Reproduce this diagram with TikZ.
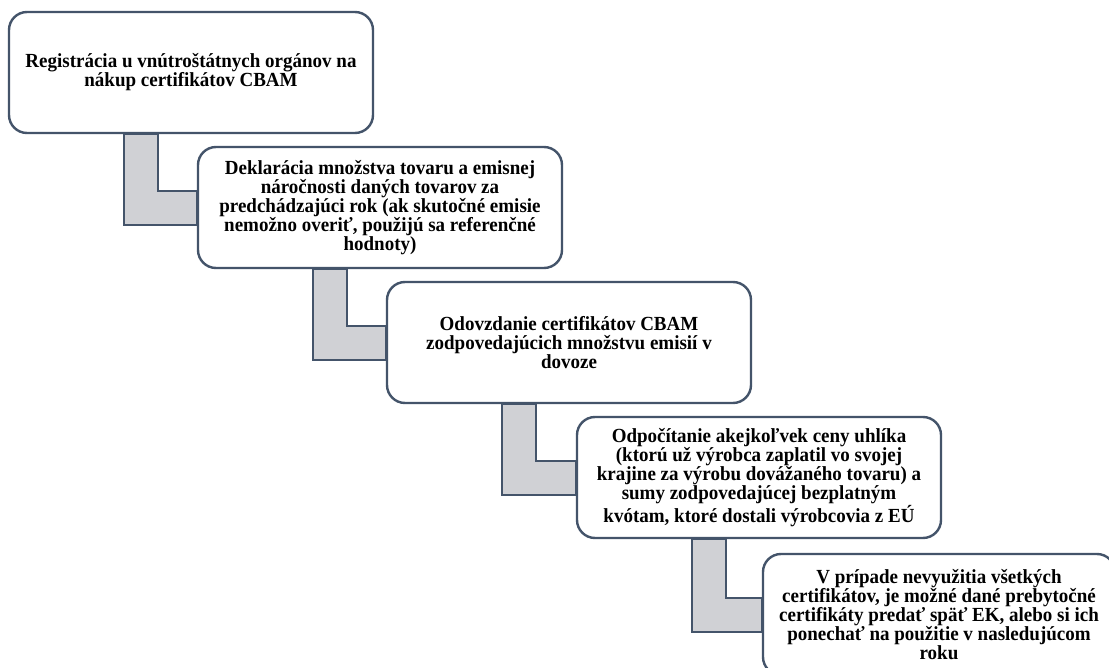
\documentclass[tikz,border=0pt]{standalone}
\usepackage{fontspec}
\setmainfont{Liberation Serif}[FakeStretch=0.95]
\usetikzlibrary{calc}
\definecolor{edgecol}{HTML}{44546A}
\definecolor{connfill}{HTML}{D0D1D5}
\tikzset{
  stepbox/.style={draw=edgecol, line width=2.4pt, fill=white, rounded corners=18pt,
    rectangle, inner sep=0pt, minimum height=121pt, minimum width=364pt, align=center,
    font=\fontsize{20}{19}\selectfont\bfseries, text=black},
  conn/.style={draw=edgecol, line width=2.4pt, fill=connfill, line join=miter}
}
\begin{document}
\begin{tikzpicture}[x=1pt,y=-1pt]
\useasboundingbox (0,0) rectangle (1109,668);
\clip (0,0) rectangle (1109,668);
\fill[white] (0,0) rectangle (1109,668);
% invisible placeholders giving the box geometry
\node[stepbox, draw=none, fill=none, text opacity=0] (a) at (191,72.5) {Registrácia u vnútroštátnych orgánov na\\nákup certifikátov CBAM};
\node[stepbox, draw=none, fill=none, text opacity=0] (b) at (380,207.5) {Deklarácia množstva tovaru a emisnej\\náročnosti daných tovarov za\\predchádzajúci rok (ak skutočné emisie\\nemožno overiť, použijú sa referenčné\\hodnoty)};
\node[stepbox, draw=none, fill=none, text opacity=0] (c) at (569,342.5) {Odovzdanie certifikátov CBAM\\zodpovedajúcich množstvu emisií v\\dovoze};
\node[stepbox, draw=none, fill=none, text opacity=0] (d) at (759,477.5) {Odpočítanie akejkoľvek ceny uhlíka\\(ktorú už výrobca zaplatil vo svojej\\krajine za výrobu dovážaného tovaru) a\\sumy zodpovedajúcej bezplatným\\kvótam, ktoré dostali výrobcovia z EÚ};
\node[stepbox, minimum width=352pt, draw=none, fill=none, text opacity=0] (e) at (939,614.5) {V prípade nevyužitia všetkých\\certifikátov, je možné dané prebytočné\\certifikáty predať späť EK, alebo si ich\\ponechať na použitie v nasledujúcom\\roku};
% connectors
\foreach \p/\q in {a/b, b/c, c/d, d/e}{
  \draw[conn] ([xshift=116pt]\p.south west) -- ([xshift=150pt]\p.south west)
    |- ([yshift=-45pt]\q.north west) -- ([yshift=-79pt]\q.north west)
    -| ([xshift=116pt]\p.south west) -- cycle;
}
% visible boxes
\node[stepbox] (A) at (a) {Registrácia u vnútroštátnych orgánov na\\nákup certifikátov CBAM};
\node[stepbox] (B) at (b) {Deklarácia množstva tovaru a emisnej\\náročnosti daných tovarov za\\predchádzajúci rok (ak skutočné emisie\\nemožno overiť, použijú sa referenčné\\hodnoty)};
\node[stepbox] (C) at (c) {Odovzdanie certifikátov CBAM\\zodpovedajúcich množstvu emisií v\\dovoze};
\node[stepbox] (D) at (d) {Odpočítanie akejkoľvek ceny uhlíka\\(ktorú už výrobca zaplatil vo svojej\\krajine za výrobu dovážaného tovaru) a\\sumy zodpovedajúcej bezplatným\\kvótam, ktoré dostali výrobcovia z EÚ};
\node[stepbox, minimum width=352pt] (E) at (e) {V prípade nevyužitia všetkých\\certifikátov, je možné dané prebytočné\\certifikáty predať späť EK, alebo si ich\\ponechať na použitie v nasledujúcom\\roku};
\end{tikzpicture}
\end{document}
